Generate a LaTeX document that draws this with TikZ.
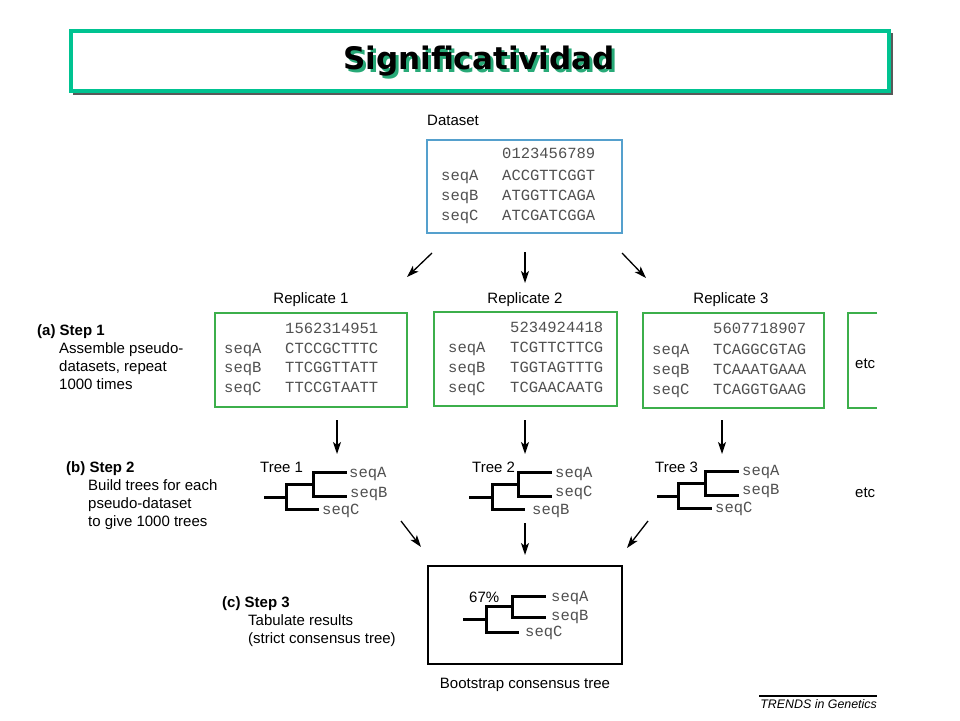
\documentclass[tikz,border=0pt]{standalone}
\usepackage{fontspec}
\setmainfont{Liberation Sans}
\setmonofont{Liberation Mono}
\newfontfamily\titlefont{DejaVu Sans}
\usetikzlibrary{arrows.meta}
\definecolor{titlegreen}{RGB}{0,195,145}
\definecolor{shadowgreen}{RGB}{40,170,120}
\definecolor{repgreen}{RGB}{60,175,75}
\definecolor{dsblue}{RGB}{85,160,205}
\definecolor{seqgray}{RGB}{80,80,80}
\begin{document}
\begin{tikzpicture}[x=1pt,y=-1pt,
  lbl/.style={anchor=base west, inner sep=0pt, font=\fontsize{15}{18}\selectfont},
  clbl/.style={anchor=base, inner sep=0pt, font=\fontsize{15}{18}\selectfont},
  blbl/.style={anchor=base west, inner sep=0pt, font=\bfseries\fontsize{15}{18}\selectfont},
  seqtxt/.style={anchor=base west, inner sep=0pt, text=seqgray, font=\ttfamily\fontsize{15.5}{18}\selectfont},
  arr/.style={-{Stealth[length=12pt,width=8pt,inset=3pt]}, line width=1.3pt},
  treeline/.style={line width=3pt, line cap=rect, line join=miter},
  boxnode/.style={anchor=north west, inner sep=0pt, outer sep=0pt, line width=2pt}
]
\useasboundingbox (0,0) rectangle (960,720);
\fill[white] (0,0) rectangle (960,720);

% ---- title
\fill[gray!70!black] (73,33) rectangle (893,95);
\node[boxnode, draw=titlegreen, line width=4pt, fill=white, minimum width=818pt, minimum height=60pt] (titlebox) at (71,31) {};
\node[text=shadowgreen, font=\titlefont\bfseries\fontsize{31}{36}\selectfont] (titleshadow) at (482,64) {Significatividad};
\node[text=black, font=\titlefont\bfseries\fontsize{31}{36}\selectfont] (title) at (479,61) {Significatividad};

% ---- dataset
\node[lbl] (dslabel) at (427,125) {Dataset};
\node[boxnode, draw=dsblue, minimum width=195pt, minimum height=93pt] (ds) at (427,140) {};
\node[seqtxt] (dsnum) at (502,158) {0123456789};
\node[seqtxt] (dsla) at (441,180) {seqA};
\node[seqtxt] (dssa) at (502,180) {ACCGTTCGGT};
\node[seqtxt] (dslb) at (441,200) {seqB};
\node[seqtxt] (dssb) at (502,200) {ATGGTTCAGA};
\node[seqtxt] (dslc) at (441,220) {seqC};
\node[seqtxt] (dssc) at (502,220) {ATCGATCGGA};

\coordinate (a1s) at (432,253); \coordinate (a1e) at (407,277);
\coordinate (a2s) at (525,252); \coordinate (a2e) at (525,283);
\coordinate (a3s) at (622,253); \coordinate (a3e) at (646,278);
\draw[arr] (a1s) -- (a1e);
\draw[arr] (a2s) -- (a2e);
\draw[arr] (a3s) -- (a3e);

% ---- step labels
\node[blbl] (s1) at (37,335) {(a) Step 1};
\node[lbl] (s1a) at (59,353) {Assemble pseudo-};
\node[lbl] (s1b) at (59,371) {datasets, repeat};
\node[lbl] (s1c) at (59,389) {1000 times};

\node[blbl] (s2) at (66,472) {(b) Step 2};
\node[lbl] (s2a) at (88,490) {Build trees for each};
\node[lbl] (s2b) at (88,508) {pseudo-dataset};
\node[lbl] (s2c) at (88,526) {to give 1000 trees};

\node[blbl] (s3) at (222,607) {(c) Step 3};
\node[lbl] (s3a) at (248,625) {Tabulate results};
\node[lbl] (s3b) at (248,643) {(strict consensus tree)};

% ---- replicates
\node[clbl] (r1lab) at (311,303) {Replicate 1};
\node[clbl] (r2lab) at (525,303) {Replicate 2};
\node[clbl] (r3lab) at (731,303) {Replicate 3};

\node[boxnode, draw=repgreen, minimum width=192pt, minimum height=94pt] (rep1) at (215,313) {};
\node[boxnode, draw=repgreen, minimum width=183pt, minimum height=94pt] (rep2) at (434,312) {};
\node[boxnode, draw=repgreen, minimum width=181pt, minimum height=95pt] (rep3) at (643,313) {};
\coordinate (etc1) at (877,313); \coordinate (etc2) at (848,313);
\coordinate (etc3) at (848,408); \coordinate (etc4) at (877,408);
\draw[repgreen, line width=2pt] (etc1) -- (etc2) -- (etc3) -- (etc4);
\node[lbl] (etcA) at (855,368) {etc};

\node[seqtxt] (r1n) at (285,333) {1562314951};
\node[seqtxt] (r1la) at (224,353) {seqA};
\node[seqtxt] (r1sa) at (285,353) {CTCCGCTTTC};
\node[seqtxt] (r1lb) at (224,372) {seqB};
\node[seqtxt] (r1sb) at (285,372) {TTCGGTTATT};
\node[seqtxt] (r1lc) at (224,392) {seqC};
\node[seqtxt] (r1sc) at (285,392) {TTCCGTAATT};

\node[seqtxt] (r2n) at (510,332) {5234924418};
\node[seqtxt] (r2la) at (448,352) {seqA};
\node[seqtxt] (r2sa) at (510,352) {TCGTTCTTCG};
\node[seqtxt] (r2lb) at (448,372) {seqB};
\node[seqtxt] (r2sb) at (510,372) {TGGTAGTTTG};
\node[seqtxt] (r2lc) at (448,392) {seqC};
\node[seqtxt] (r2sc) at (510,392) {TCGAACAATG};

\node[seqtxt] (r3n) at (713,333) {5607718907};
\node[seqtxt] (r3la) at (652,354) {seqA};
\node[seqtxt] (r3sa) at (713,354) {TCAGGCGTAG};
\node[seqtxt] (r3lb) at (652,374) {seqB};
\node[seqtxt] (r3sb) at (713,374) {TCAAATGAAA};
\node[seqtxt] (r3lc) at (652,394) {seqC};
\node[seqtxt] (r3sc) at (713,394) {TCAGGTGAAG};

% ---- arrows to trees
\coordinate (b1s) at (337,420); \coordinate (b1e) at (337,454);
\coordinate (b2s) at (525,420); \coordinate (b2e) at (525,454);
\coordinate (b3s) at (722,420); \coordinate (b3e) at (722,454);
\draw[arr] (b1s) -- (b1e);
\draw[arr] (b2s) -- (b2e);
\draw[arr] (b3s) -- (b3e);

% ---- trees
\node[lbl] (t1lab) at (260,472) {Tree 1};
\draw[treeline] (345,472) -- (313,472) -- (313,496) -- (345,496);
\draw[treeline] (313,484) -- (286,484) -- (286,509) -- (317,509);
\draw[treeline] (265,497) -- (286,497);
\node[seqtxt] (t1a) at (349,477) {seqA};
\node[seqtxt] (t1b) at (350,497) {seqB};
\node[seqtxt] (t1c) at (322,514) {seqC};

\node[lbl] (t2lab) at (472,472) {Tree 2};
\draw[treeline] (550,472) -- (518,472) -- (518,496) -- (550,496);
\draw[treeline] (518,484) -- (492,484) -- (492,509) -- (523,509);
\draw[treeline] (470,497) -- (492,497);
\node[seqtxt] (t2a) at (555,477) {seqA};
\node[seqtxt] (t2b) at (555,496) {seqC};
\node[seqtxt] (t2c) at (532,514) {seqB};

\node[lbl] (t3lab) at (655,472) {Tree 3};
\draw[treeline] (737,471) -- (705,471) -- (705,495) -- (737,495);
\draw[treeline] (705,483) -- (678,483) -- (678,508) -- (710,508);
\draw[treeline] (658,496) -- (678,496);
\node[seqtxt] (t3a) at (742,475) {seqA};
\node[seqtxt] (t3b) at (742,494) {seqB};
\node[seqtxt] (t3c) at (715,512) {seqC};

\node[lbl] (etcB) at (855,497) {etc};

% ---- arrows to consensus
\coordinate (c1s) at (401,521); \coordinate (c1e) at (421,547);
\coordinate (c2s) at (525,523); \coordinate (c2e) at (525,555);
\coordinate (c3s) at (648,521); \coordinate (c3e) at (627,548);
\draw[arr] (c1s) -- (c1e);
\draw[arr] (c2s) -- (c2e);
\draw[arr] (c3s) -- (c3e);

% ---- consensus
\node[boxnode, draw=black, line width=1.5pt, minimum width=194pt, minimum height=98pt] (cons) at (428,566) {};
\draw[treeline] (544,596) -- (512,596) -- (512,617) -- (544,617);
\draw[treeline] (512,606) -- (486,606) -- (486,632) -- (517,632);
\draw[treeline] (464,619) -- (486,619);
\node[lbl] (pct) at (469,602) {67\%};
\node[seqtxt] (ca) at (551,601) {seqA};
\node[seqtxt] (cb) at (551,620) {seqB};
\node[seqtxt] (cc) at (525,636) {seqC};
\node[clbl] (boot) at (525,688) {Bootstrap consensus tree};

% ---- credit
\coordinate (tr1) at (759,696); \coordinate (tr2) at (877,696);
\draw[line width=1.4pt] (tr1) -- (tr2);
\node[anchor=base east, inner sep=0pt, font=\itshape\fontsize{12.4}{14}\selectfont] (trends) at (877,708) {TRENDS in Genetics};
\end{tikzpicture}
\end{document}
